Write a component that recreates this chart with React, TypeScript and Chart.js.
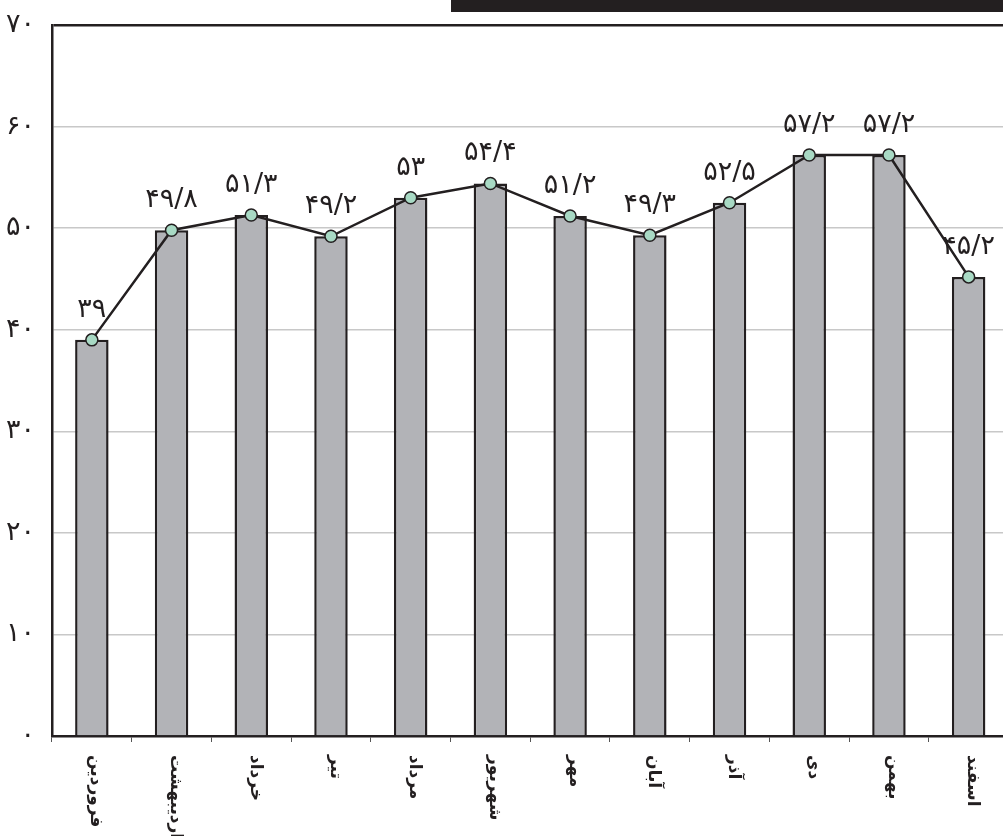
import React, { useEffect, useRef } from "react";
import { Chart, registerables } from "chart.js";

Chart.register(...registerables);

const months: string[] = [
  "فروردین", "اردیبهشت", "خرداد", "تیر", "مرداد", "شهریور",
  "مهر", "آبان", "آذر", "دی", "بهمن", "اسفند",
];
const barValues: number[] = [39, 49.8, 51.3, 49.2, 53, 54.4, 51.2, 49.3, 52.5, 57.2, 57.2, 45.2];
const lineValues: number[] = [39, 49.8, 51.3, 49.2, 53, 54.4, 51.2, 49.3, 52.5, 57.2, 57.2, 45.2];
const yMin = 0;
const yMax = 70;
const yStep = 10;

const FA = "۰۱۲۳۴۵۶۷۸۹";
const toFa = (v: number | string) =>
  String(v).replace(".", "/").replace(/[0-9]/g, (d) => FA[Number(d)]);

const DARK = "#231f20";
const FONT = "'DejaVu Sans', sans-serif";

const valueLabels = {
  id: "valueLabels",
  afterDatasetsDraw(chart: any) {
    const meta = chart.getDatasetMeta(1);
    const ctx = chart.ctx;
    ctx.save();
    ctx.fillStyle = DARK;
    ctx.font = `27px ${FONT}`;
    ctx.textAlign = "center";
    ctx.textBaseline = "middle";
    meta.data.forEach((pt: any, i: number) => {
      ctx.fillText(toFa(lineValues[i]), pt.x, pt.y - 30);
    });
    ctx.restore();
  },
};

const rotatedXLabels = {
  id: "rotatedXLabels",
  afterDraw(chart: any) {
    const xs = chart.scales.x;
    const ctx = chart.ctx;
    ctx.save();
    ctx.fillStyle = DARK;
    ctx.font = `bold 17px ${FONT}`;
    ctx.textAlign = "left";
    ctx.textBaseline = "middle";
    months.forEach((m, i) => {
      const x = xs.getPixelForTick(i) + 4;
      const y = xs.top + 19;
      ctx.save();
      ctx.translate(x, y);
      ctx.rotate(Math.PI / 2);
      ctx.fillText(m, 0, 0);
      ctx.restore();
    });
    ctx.restore();
  },
};

export default function App() {
  const ref = useRef<HTMLCanvasElement | null>(null);
  useEffect(() => {
    if (!ref.current) return;
    const chart = new Chart(ref.current, {
      type: "bar",
      data: {
        labels: months,
        datasets: [
          {
            type: "bar",
            data: barValues,
            backgroundColor: "#b2b3b7",
            borderColor: DARK,
            borderWidth: 2.5,
            barPercentage: 0.42,
            categoryPercentage: 1,
            order: 2,
          },
          {
            type: "line",
            data: lineValues,
            borderColor: DARK,
            borderWidth: 2.5,
            pointRadius: 6,
            pointBackgroundColor: "#a8d9c4",
            pointBorderColor: DARK,
            pointBorderWidth: 1.5,
            tension: 0,
            order: 1,
          },
        ],
      },
      options: {
        responsive: false,
        animation: false,
        layout: { padding: { top: 25, right: 4, left: 0, bottom: 0 } },
        plugins: {
          legend: { display: false },
          tooltip: { enabled: false },
        },
        scales: {
          x: {
            grid: {
              offset: true,
              drawOnChartArea: false,
              drawTicks: true,
              tickLength: 6,
              color: "#555",
              lineWidth: 1,
            },
            border: { display: true, color: DARK, width: 2.5 },
            ticks: { display: false },
            afterFit: (s: any) => {
              s.height = 100;
              s.paddingLeft = 0;
              s.paddingRight = 0;
            },
          },
          y: {
            min: yMin,
            max: yMax,
            ticks: {
              stepSize: yStep,
              color: DARK,
              font: { family: FONT, size: 27 },
              padding: 17,
              callback: (v: any) => toFa(v),
            },
            grid: {
              drawTicks: false,
              color: (c: any) => (c.tick && c.tick.value === yMax ? DARK : "#c8c8c8"),
              lineWidth: (c: any) => (c.tick && c.tick.value === yMax ? 2.5 : 1.5),
            },
            border: { display: true, color: DARK, width: 2.5 },
            afterFit: (s: any) => {
              s.width = 52;
              s.paddingTop = 0;
              s.paddingBottom = 0;
            },
          },
        },
      },
      plugins: [valueLabels, rotatedXLabels],
    });
    return () => chart.destroy();
  }, []);

  return (
    <div
      style={{
        position: "fixed",
        left: 0,
        top: 0,
        width: 1003,
        height: 836,
        overflow: "hidden",
        background: "#fff",
      }}
    >
      <canvas
        ref={ref}
        width={1016}
        height={836}
        style={{ position: "absolute", left: 0, top: 0, width: 1016, height: 836 }}
      />
      <div
        style={{
          position: "absolute",
          left: 451,
          top: 0,
          width: 560,
          height: 12,
          background: DARK,
        }}
      />
    </div>
  );
}
